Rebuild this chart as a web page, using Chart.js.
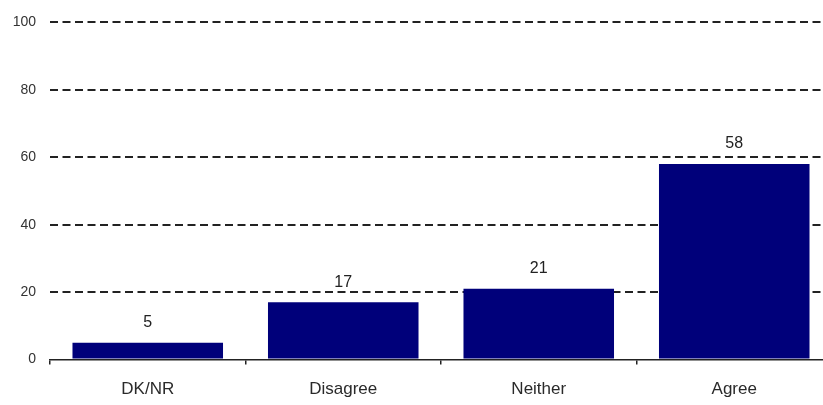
<!DOCTYPE html>
<html>
<head>
<meta charset="utf-8">
<script src="https://cdn.jsdelivr.net/npm/chart.js@4/dist/chart.umd.min.js"></script>
<style>
  html, body { margin: 0; padding: 0; background: #fff; overflow: hidden; }
  #wrap { width: 832px; height: 405px; position: relative; }
</style>
</head>
<body>
<div id="wrap"><canvas id="myChart"></canvas></div>
<script>
var categories = ["DK/NR", "Disagree", "Neither", "Agree"];
var values = [5, 17, 21, 58];
var yTicks = [0, 20, 40, 60, 80, 100];

// numbers above each bar
var barLabels = {
  id: "barLabels",
  afterDatasetsDraw: function(chart) {
    var ctx = chart.ctx;
    var meta = chart.getDatasetMeta(0);
    ctx.save();
    ctx.font = "16px 'Liberation Sans', Arial, sans-serif";
    ctx.fillStyle = "#222";
    ctx.textAlign = "center";
    ctx.textBaseline = "middle";
    meta.data.forEach(function(bar, i) {
      ctx.fillText(values[i], bar.x, bar.y - 20);
    });
    ctx.restore();
  }
};

new Chart("myChart", {
  type: "bar",
  data: {
    labels: categories,
    datasets: [{
      data: values,
      backgroundColor: "#00007a",
      borderWidth: 0,
      barPercentage: 0.77,
      categoryPercentage: 1
    }]
  },
  options: {
    responsive: true,
    maintainAspectRatio: false,
    animation: false,
    layout: { padding: { top: 20, right: 0, bottom: 0, left: 0 } },
    plugins: {
      legend: { display: false },
      tooltip: { enabled: false }
    },
    scales: {
      x: {
        afterFit: function(scale) { scale.height = 45.5; },
        border: { display: true, color: "#222", width: 1.5 },
        grid: {
          display: true,
          drawOnChartArea: false,
          drawTicks: true,
          tickLength: 5,
          color: "#222",
          lineWidth: 1.5
        },
        ticks: {
          color: "#2a2a2a",
          padding: 15,
          font: { family: "'Liberation Sans', Arial, sans-serif", size: 17 }
        }
      },
      y: {
        min: 0,
        max: 100,
        afterFit: function(scale) { scale.width = 50; },
        afterBuildTicks: function(scale) {
          scale.ticks = yTicks.map(function(v) { return { value: v }; });
        },
        border: { display: false, dash: [8, 4.5] },
        grid: {
          drawTicks: false,
          tickLength: 0,
          color: function(c) { return c.tick && c.tick.value === 0 ? "rgba(0,0,0,0)" : "#222"; },
          lineWidth: 2
        },
        ticks: {
          color: "#333",
          padding: 14,
          font: { family: "'Liberation Sans', Arial, sans-serif", size: 14 }
        }
      }
    }
  },
  plugins: [barLabels]
});
</script>
</body>
</html>
